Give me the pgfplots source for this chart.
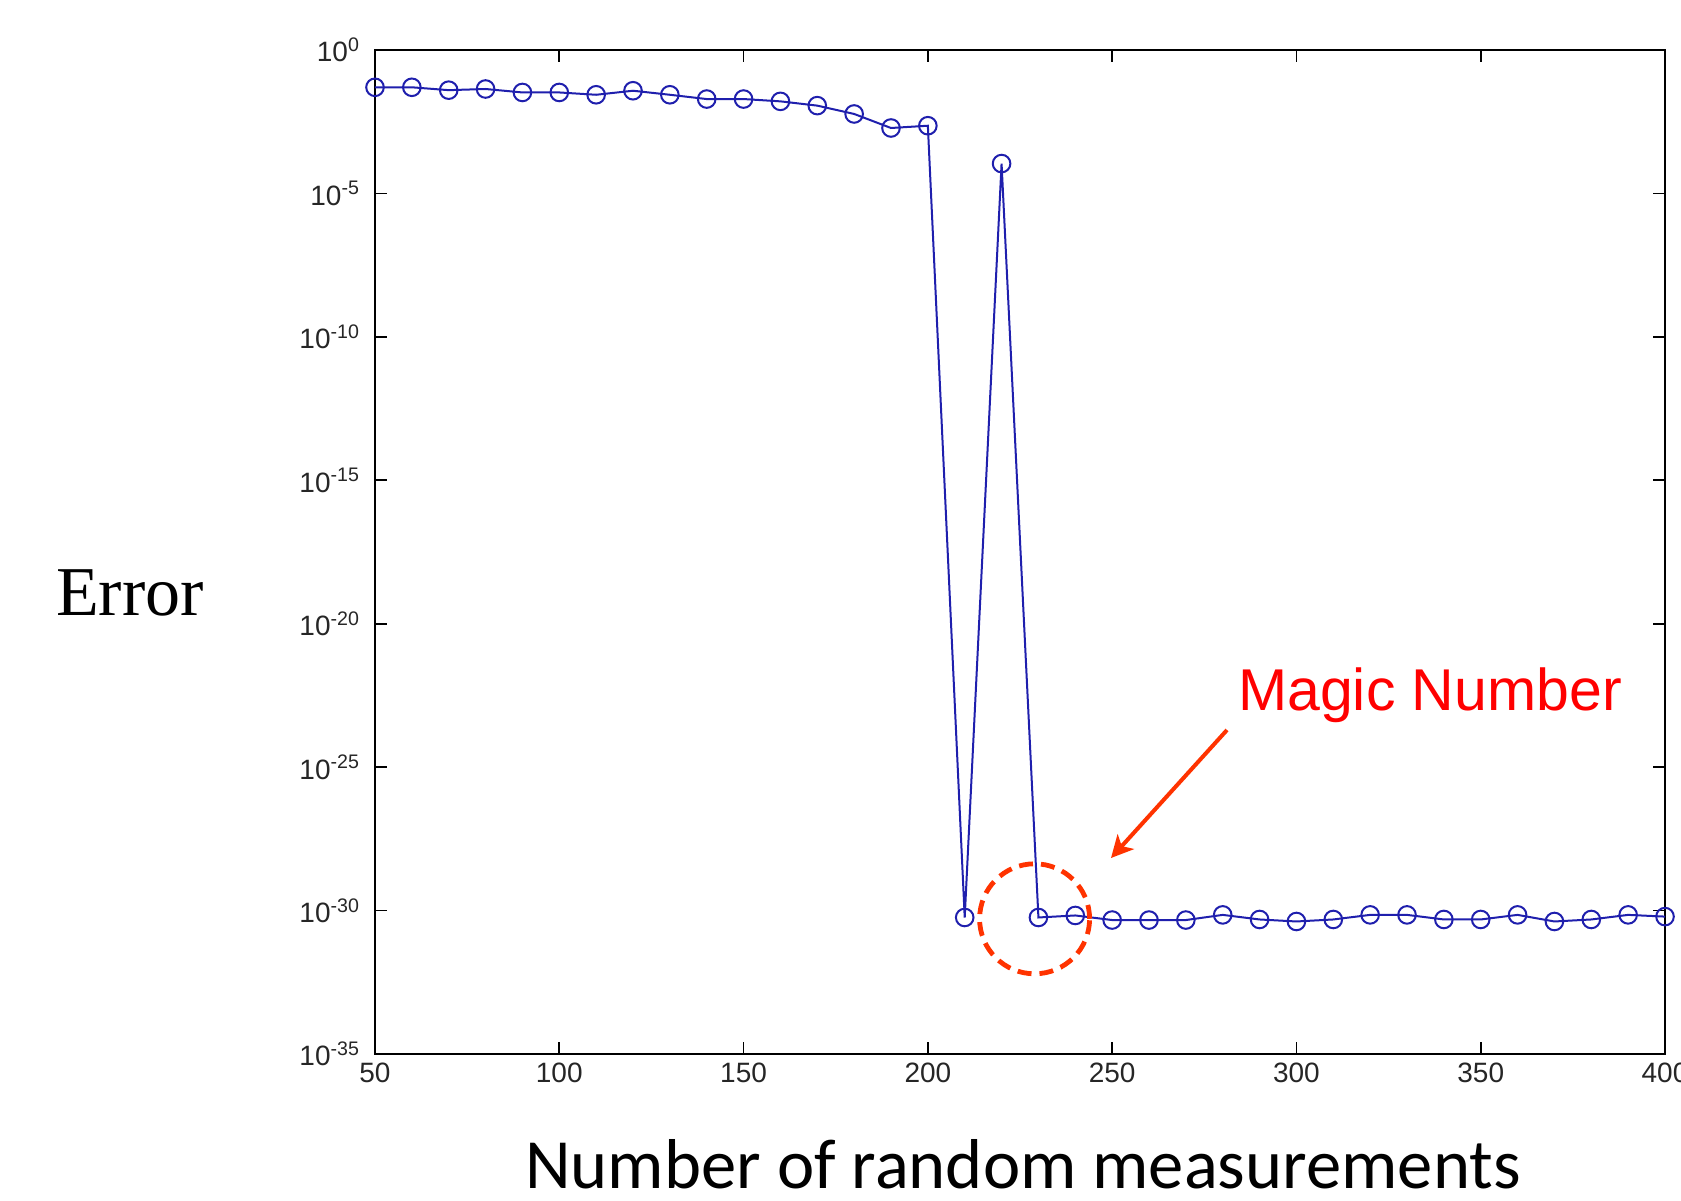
\documentclass[border=0pt]{standalone}
\usepackage{fontspec}
\setmainfont{Liberation Sans}
\newfontfamily\timesfont{Liberation Serif}
\newfontfamily\calibri{Carlito}
\usepackage{xcolor}
\usepackage{pgfplots}
\pgfplotsset{compat=1.18}
\usetikzlibrary{arrows.meta}
\definecolor{mline}{rgb}{0.12,0.12,0.68}
\definecolor{arrowred}{HTML}{FF3300}

\begin{document}
\begin{tikzpicture}
\path[use as bounding box] (-187.5pt,-73pt) rectangle (653pt,527pt);
\clip (-187.5pt,-73pt) rectangle (653pt,527pt);
\begin{axis}[
  at={(0pt,0pt)}, anchor=south west,
  scale only axis, width=645pt, height=502pt,
  ymode=log,
  xmin=50, xmax=400, ymin=1e-35, ymax=1,
  xtick={50,100,...,400},
  ytick={1e0,1e-5,1e-10,1e-15,1e-20,1e-25,1e-30,1e-35},
  yticklabels={10\textsuperscript{0},10\textsuperscript{-5},10\textsuperscript{-10},
    10\textsuperscript{-15},10\textsuperscript{-20},10\textsuperscript{-25},
    10\textsuperscript{-30},10\textsuperscript{-35}},
  minor tick num=0, yminorticks=false,
  major tick length=6pt,
  tick style={black, line width=0.8pt},
  axis line style={black, line width=1.2pt},
  ticklabel style={font=\fontsize{14}{14}\selectfont, black!85},
  /pgf/number format/assume math mode=true,
  xticklabel style={yshift=-1pt},
  yticklabel style={xshift=-4pt},
]
\addplot[mline, line width=1pt, mark=o, mark size=4.4pt,
  mark options={line width=1pt}] coordinates {
 (50,5.01e-2) (60,5.01e-2) (70,3.98e-2) (80,4.37e-2) (90,3.31e-2)
 (100,3.31e-2) (110,2.75e-2) (120,3.80e-2) (130,2.75e-2) (140,1.95e-2)
 (150,1.95e-2) (160,1.62e-2) (170,1.15e-2) (180,5.89e-3) (190,1.91e-3)
 (200,2.29e-3) (210,5.75e-31) (220,1.10e-4) (230,5.75e-31) (240,6.76e-31)
 (250,4.68e-31) (260,4.68e-31) (270,4.68e-31) (280,7.08e-31) (290,4.90e-31)
 (300,4.17e-31) (310,4.90e-31) (320,7.08e-31) (330,7.08e-31) (340,4.90e-31)
 (350,4.90e-31) (360,7.08e-31) (370,4.17e-31) (380,4.90e-31) (390,7.08e-31)
 (400,6.17e-31)};
\end{axis}
% annotations (pt coordinates, origin at the axis' lower left corner)
\draw[arrowred, line width=2.4pt, dash pattern=on 7pt off 4pt]
  (329.8pt,67.6pt) circle[radius=27.5pt];
\draw[arrowred, line width=2pt, -{Stealth[length=11pt,width=11pt,inset=3pt]}]
  (426pt,162pt) -- (368pt,98pt);
\node[red, font=\fontsize{29.5}{30}\selectfont] at (527.5pt,179.5pt) {Magic Number};
\node[font=\timesfont\fontsize{35}{36}\selectfont] at (-122.5pt,230.5pt) {Error};
\node[font=\calibri\fontsize{35.3}{36}\selectfont] at (324pt,-55pt)
  {Number of random measurements};
\end{tikzpicture}
\end{document}
